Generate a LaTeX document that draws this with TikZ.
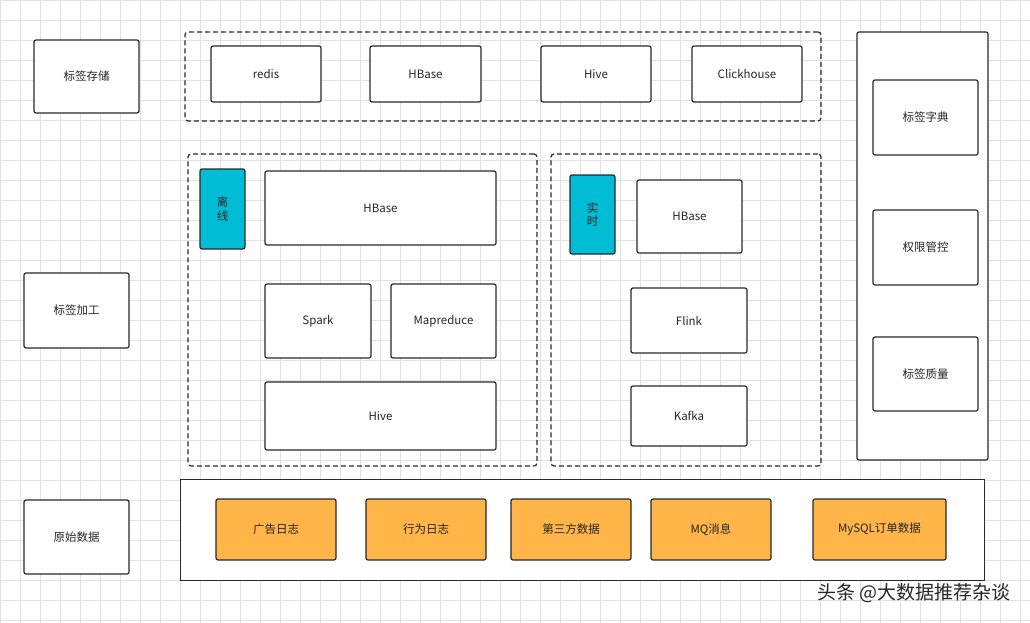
\documentclass[tikz,border=0pt]{standalone}
\usepackage{fontspec}
\setmainfont{Noto Sans CJK SC}
\definecolor{teal1}{RGB}{0,188,212}
\definecolor{org}{RGB}{255,181,71}
\definecolor{gridc}{RGB}{225,225,225}
\definecolor{ln}{RGB}{40,40,40}
\newcommand\bx[7]{\node[#7,minimum width={(#4-#2)*1pt},minimum height={(#5-#3)*1pt}] (#1) at ({(#2+#4)/2},{(#3+#5)/2}) {#6};}
\begin{document}
\begin{tikzpicture}[x=1pt,y=-1pt,font=\fontsize{11.5}{13.5}\selectfont,
 box/.style={draw=ln,line width=1.2pt,rounded corners=2pt,fill=white,inner sep=0pt,align=center,text=black!85},
 dbox/.style={draw=ln,line width=1.2pt,dashed,dash pattern=on 5pt off 3pt,rounded corners=3pt,inner sep=0pt},
 tbox/.style={box,fill=teal1},
 obox/.style={box,fill=org}]
\useasboundingbox (0,0) rectangle (1030,623);
\fill[white] (0,0) rectangle (1030,623);
\draw[gridc,line width=0.5pt] (0,0) grid[step=20pt] (1030,623);
\bx{l1}{34}{40}{139}{113}{标签存储}{box}
\bx{l2}{24}{273}{129}{348}{标签加工}{box}
\bx{l3}{24}{500}{129}{574}{原始数据}{box}
\bx{st}{185}{32}{821}{121}{}{dbox}
\bx{s1}{211}{46}{321}{102}{redis}{box}
\bx{s2}{370}{46}{481}{102}{HBase}{box}
\bx{s3}{541}{46}{651}{102}{Hive}{box}
\bx{s4}{692}{46}{802}{102}{Clickhouse}{box}
\bx{off}{188}{154}{537}{466}{}{dbox}
\bx{lx}{200}{169}{245}{249}{离\\线}{tbox}
\bx{o1}{265}{171}{496}{245}{HBase}{box}
\bx{o2}{265}{284}{371}{358}{Spark}{box}
\bx{o3}{391}{284}{496}{358}{Mapreduce}{box}
\bx{o4}{265}{382}{496}{450}{Hive}{box}
\bx{rt}{551}{154}{821}{466}{}{dbox}
\bx{ss}{570}{175}{615}{254}{实\\时}{tbox}
\bx{r1}{637}{180}{742}{253}{HBase}{box}
\bx{r2}{631}{288}{747}{353}{Flink}{box}
\bx{r3}{631}{386}{747}{446}{Kafka}{box}
\bx{rp}{857}{32}{988}{460}{}{box}
\bx{p1}{873}{80}{978}{155}{标签字典}{box}
\bx{p2}{873}{210}{978}{285}{权限管控}{box}
\bx{p3}{873}{337}{978}{411}{标签质量}{box}
\bx{bt}{180}{479}{984}{580}{}{box,rounded corners=0pt,line width=1pt}
\bx{b1}{216}{499}{336}{560}{广告日志}{obox}
\bx{b2}{366}{499}{486}{560}{行为日志}{obox}
\bx{b3}{511}{499}{631}{560}{第三方数据}{obox}
\bx{b4}{651}{499}{771}{560}{MQ消息}{obox}
\bx{b5}{813}{499}{946}{560}{MySQL订单数据}{obox}
\node[anchor=east,font=\fontsize{19}{22}\selectfont,text=black!85] (wm) at (1014,593) {头条 @大数据推荐杂谈};
\end{tikzpicture}
\end{document}
